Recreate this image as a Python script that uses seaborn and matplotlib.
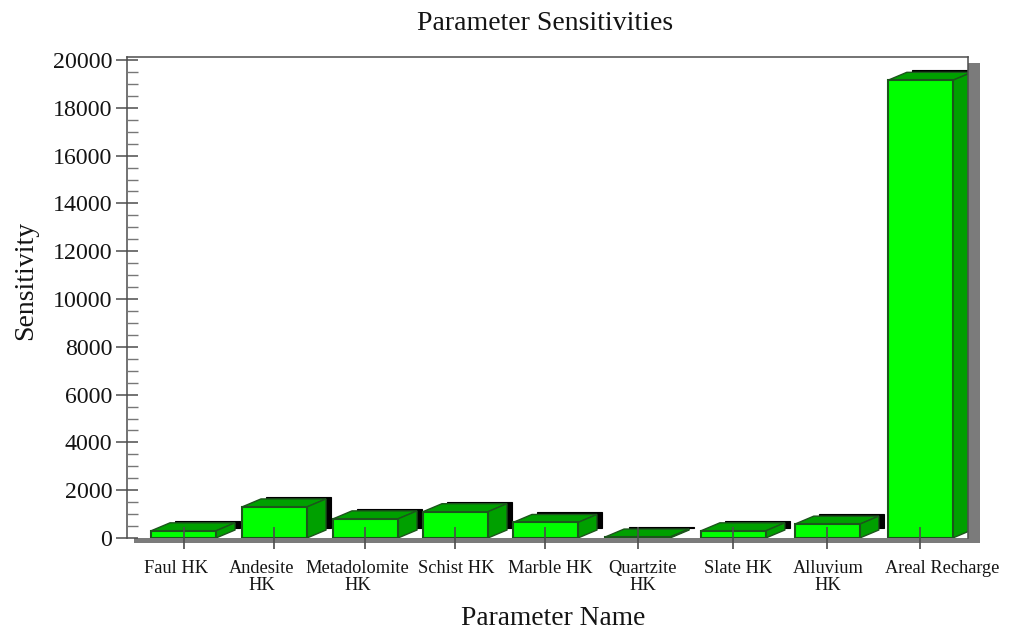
import matplotlib
matplotlib.use("Agg")
import matplotlib.pyplot as plt
import pandas as pd
import seaborn as sns
from matplotlib.patches import Polygon, Rectangle
from matplotlib.ticker import MultipleLocator
from matplotlib.transforms import ScaledTranslation

# Sensitivity of each model parameter
parameters = ["Faul HK", "Andesite\nHK", "Metadolomite\nHK", "Schist HK", "Marble HK",
              "Quartzite\nHK", "Slate HK", "Alluvium\nHK", "Areal Recharge"]
sensitivity = [300, 1300, 800, 1100, 650, 40, 300, 580, 19150]

# Horizontal layout of the bars along the parameter axis
slots = [0, 0.988, 1.976, 2.953, 3.93, 4.93, 5.97, 6.99, 8.0]
label_shift_px = [-7, -13, -8, 1, 5, 5, 5, 1, 22]

W, H = 1011, 631
LEFT, RIGHT, TOP, BASE = 127, 968, 57, 538
PX_PER_SLOT = 92.1
DEPTH_X, DEPTH_Y = 19, 8        # extrusion of the 3-D faces, in pixels
DROP_X, DROP_Y = 24, 10         # offset of the black drop shadow, in pixels

FRONT = "#00ff00"
FACE = "#00a000"
EDGE = "#1c551c"
AXIS = "#4d4d4d"
SHADOW = "#7b7b7b"
INK = "#141414"

sns.set_theme(style="white")
plt.rcParams["font.family"] = ["Liberation Serif", "DejaVu Serif"]

fig = plt.figure(figsize=(W / 100, H / 100), dpi=100, facecolor="white")
ax = fig.add_axes([LEFT / W, (H - BASE) / H, (RIGHT - LEFT) / W, (BASE - TOP) / H])

df = pd.DataFrame({"slot": slots, "sensitivity": sensitivity})
min_gap = min(b - a for a, b in zip(slots, slots[1:]))
sns.barplot(data=df, x="slot", y="sensitivity", native_scale=True,
            width=(65 / PX_PER_SLOT) / min_gap, color=FRONT, saturation=1,
            edgecolor=EDGE, linewidth=1.5, ax=ax, errorbar=None, zorder=2)

ax.set_xlim((LEFT - 183.5) / PX_PER_SLOT, (RIGHT - 183.5) / PX_PER_SLOT)
ax.set_ylim(0, 20000 * (BASE - TOP) / 478)
ux = 1 / PX_PER_SLOT
uy = ax.get_ylim()[1] / (BASE - TOP)

# Extruded top and side faces plus the black shadow behind each bar
for bar in list(ax.patches):
    x0, x1, h = bar.get_x(), bar.get_x() + bar.get_width(), bar.get_height()
    dx, dy = DEPTH_X * ux, DEPTH_Y * uy
    ax.add_patch(Rectangle((x0 + DROP_X * ux, DROP_Y * uy), x1 - x0, h,
                           facecolor="black", edgecolor="black", linewidth=0.8, zorder=1.2))
    ax.add_patch(Polygon([(x0, h), (x1, h), (x1 + dx, h + dy), (x0 + dx, h + dy)],
                         facecolor=FACE, edgecolor=EDGE, linewidth=1, zorder=1.5))
    ax.add_patch(Polygon([(x1, 0), (x1, h), (x1 + dx, h + dy), (x1 + dx, dy)],
                         facecolor=FACE, edgecolor=EDGE, linewidth=1, zorder=1.5))

# Grey chart-area shadow along the bottom and right edges
span_x, span_y = RIGHT - LEFT, BASE - TOP
ax.add_patch(Rectangle(((134 - LEFT) / span_x, -5 / span_y), (980 - 134) / span_x, 5 / span_y,
                       transform=ax.transAxes, facecolor=SHADOW, edgecolor="none",
                       clip_on=False, zorder=0.5))
ax.add_patch(Rectangle((1, -5 / span_y), 12 / span_x, (BASE - 63 + 5) / span_y,
                       transform=ax.transAxes, facecolor=SHADOW, edgecolor="none",
                       clip_on=False, zorder=0.5))

for side in ("left", "top", "right"):
    ax.spines[side].set_color(AXIS)
    ax.spines[side].set_linewidth(1.1)
ax.spines["bottom"].set_visible(False)
ax.set_axisbelow(False)

ax.yaxis.set_major_locator(MultipleLocator(2000))
ax.yaxis.set_minor_locator(MultipleLocator(500))
ax.tick_params(axis="y", which="major", direction="inout", length=16, width=1.1,
               color=AXIS, left=True, labelsize=17.2, labelcolor=INK, pad=2.6)
ax.tick_params(axis="y", which="minor", direction="in", length=8, width=1,
               color="#777777", left=True)

ax.set_xticks(slots)
ax.set_xticklabels(parameters, linespacing=1.0)
ax.tick_params(axis="x", which="major", direction="inout", length=16.5, width=1.2,
               color=AXIS, bottom=True, labelsize=13.2, labelcolor=INK, pad=7.3)
for tick_label, shift in zip(ax.get_xticklabels(), label_shift_px):
    tick_label.set_transform(tick_label.get_transform()
                             + ScaledTranslation(shift / 100, 0, fig.dpi_scale_trans))

fig.text(545 / W, 1 - 23 / H, "Parameter Sensitivities", ha="center", va="center",
         fontsize=20, color=INK)
fig.text(553 / W, 1 - 618.5 / H, "Parameter Name", ha="center", va="center",
         fontsize=19.8, color=INK)
fig.text(26 / W, 1 - 280 / H, "Sensitivity", rotation=90, ha="center", va="center",
         fontsize=20, color=INK)
ax.set_xlabel("")
ax.set_ylabel("")

fig.savefig("out.png", dpi=100, facecolor="white")
